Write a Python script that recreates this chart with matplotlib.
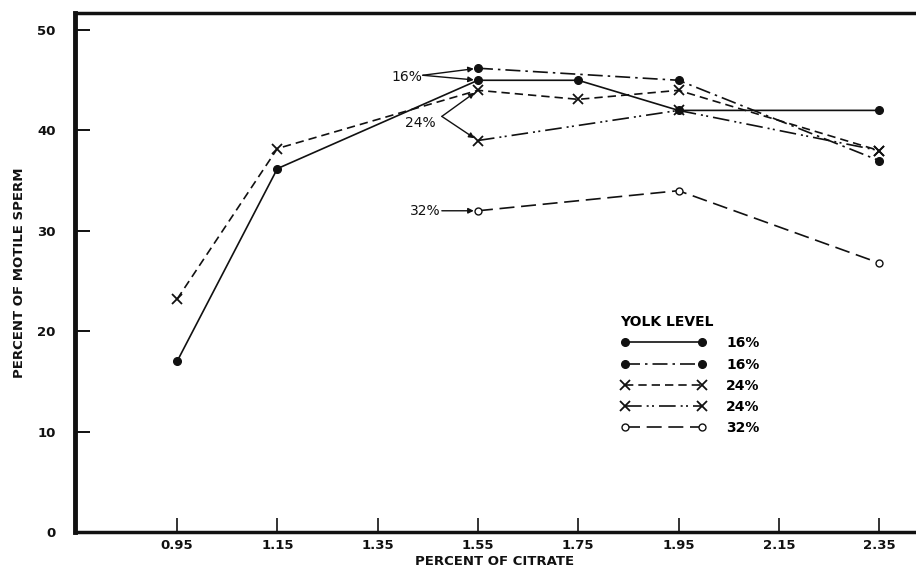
import numpy as np
import matplotlib
matplotlib.use('Agg')
import matplotlib.pyplot as plt
from matplotlib.lines import Line2D

# ---- data ----
citrate_16a = [0.95, 1.15, 1.55, 1.75, 1.95, 2.35]
motile_16a  = [17.0, 36.2, 45.0, 45.0, 42.0, 42.0]

citrate_16b = [1.55, 1.95, 2.35]
motile_16b  = [46.2, 45.0, 37.0]

citrate_24a = [0.95, 1.15, 1.55, 1.75, 1.95, 2.35]
motile_24a  = [23.2, 38.2, 44.0, 43.1, 44.0, 38.0]

citrate_24b = [1.55, 1.95, 2.35]
motile_24b  = [39.0, 42.0, 38.0]

citrate_32 = [1.55, 1.95, 2.35]
motile_32  = [32.0, 34.0, 26.8]

x_ticks = [0.95, 1.15, 1.35, 1.55, 1.75, 1.95, 2.15, 2.35]
y_ticks = [0, 10, 20, 30, 40, 50]
legend_labels = ['16%', '16%', '24%', '24%', '32%']

INK = '#111111'
plt.rcParams['font.family'] = ['DejaVu Sans']

fig = plt.figure(figsize=(9.16, 5.76), dpi=100)
ax = fig.add_axes([0.082, 0.0764, 0.916, 0.901])

styles = [
    dict(ls='-', marker='o', ms=5.5, mfc=INK),
    dict(ls=(0, (9, 3, 1.5, 3)), marker='o', ms=5.5, mfc=INK),
    dict(ls=(0, (5, 3)), marker='x', ms=6.5, mew=1.3),
    dict(ls=(0, (10, 3, 1.2, 2, 1.2, 3)), marker='x', ms=6.5, mew=1.3),
    dict(ls=(0, (9, 4)), marker='o', ms=5, mfc='white'),
]
series = [(citrate_16a, motile_16a), (citrate_16b, motile_16b),
          (citrate_24a, motile_24a), (citrate_24b, motile_24b),
          (citrate_32, motile_32)]

for (xs, ys), st in zip(series, styles):
    ax.plot(xs, ys, color=INK, lw=1.2, mec=INK, **st)

# labels with arrows pointing at the 1.55 points
arrow = dict(arrowstyle='-|>', color=INK, lw=1.0, mutation_scale=8,
             shrinkA=0, shrinkB=3)
ax.text(1.44, 45.3, '16%', ha='right', va='center', fontsize=10, color=INK)
ax.annotate('', xy=(1.55, 46.2), xytext=(1.44, 45.5), arrowprops=arrow)
ax.annotate('', xy=(1.55, 45.0), xytext=(1.44, 45.5), arrowprops=arrow)

ax.text(1.465, 40.7, '24%', ha='right', va='center', fontsize=10, color=INK)
ax.annotate('', xy=(1.55, 44.0), xytext=(1.478, 41.4), arrowprops=arrow)
ax.annotate('', xy=(1.55, 39.0), xytext=(1.478, 41.4), arrowprops=arrow)

ax.text(1.475, 32.0, '32%', ha='right', va='center', fontsize=10, color=INK)
ax.annotate('', xy=(1.55, 32.0), xytext=(1.478, 32.0), arrowprops=arrow)

handles = [Line2D([0], [0], color=INK, lw=1.2, mec=INK, **st) for st in styles]
leg = ax.legend(handles, legend_labels, title='YOLK LEVEL', numpoints=2,
                loc='upper left', bbox_to_anchor=(0.635, 0.442), frameon=False,
                handlelength=6.2, handletextpad=1.4, labelspacing=0.52,
                fontsize=10, title_fontsize=10)
leg.get_title().set_fontweight('bold')
leg._legend_box.align = 'left'
for t in leg.get_texts():
    t.set_fontweight('bold')

ax.set_xlim(0.7466, 2.42)
ax.set_ylim(0, 51.7)
ax.set_xticks(x_ticks)
ax.set_xticklabels([f'{v:.2f}' for v in x_ticks])
ax.set_yticks(y_ticks)

ax.tick_params(axis='both', direction='in', color=INK, labelcolor=INK,
               labelsize=9.5)
ax.tick_params(axis='y', length=11, width=1.4, pad=14)
ax.tick_params(axis='x', length=10, width=1.2, pad=5)
for lab in ax.get_yticklabels() + ax.get_xticklabels():
    lab.set_fontweight('bold')

ax.spines['right'].set_visible(False)
ax.spines['left'].set_linewidth(3.5)
ax.spines['top'].set_linewidth(2.5)
ax.spines['bottom'].set_linewidth(2.5)
for s in ax.spines.values():
    s.set_color(INK)

ax.set_xlabel('PERCENT OF CITRATE', fontsize=9.5, fontweight='bold',
              color=INK, labelpad=2)
ax.set_ylabel('PERCENT OF MOTILE SPERM', fontsize=9.5, fontweight='bold',
              color=INK, labelpad=8)

fig.savefig('out.png', dpi=100)
